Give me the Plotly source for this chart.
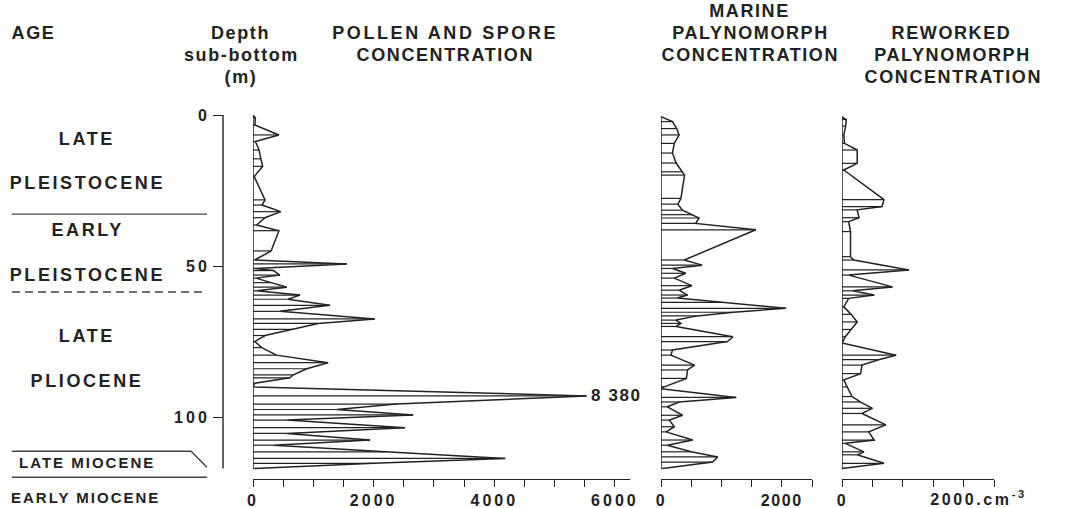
import plotly.graph_objects as go

# ---------------- data ----------------
pollen_depth = [0.0, 1.0, 3.3, 6.6, 8.8, 11.6, 14.5, 17.0, 20.4, 28.1, 29.8, 32.0, 34.0, 36.4, 38.3,
                45.0, 48.0, 49.3, 50.8, 51.5, 53.0, 54.0, 55.5, 57.0, 58.2, 59.6, 61.0, 63.0, 65.0,
                67.5, 69.0, 71.0, 73.0, 75.0, 77.0, 79.5, 82.0, 84.0, 86.0, 87.0, 88.8, 90.0, 93.0,
                95.7, 97.5, 99.3, 101.0, 103.5, 105.4, 107.6, 109.3, 111.5, 113.7, 115.3, 117.0]
pollen_value = [0, 40, 30, 430, 40, 100, 130, 160, 20, 200, 150, 460, 200, 60, 430,
                300, 30, 1555, 30, 340, 445, 50, 300, 560, 60, 780, 580, 1275, 445,
                2020, 1080, 665, 200, 30, 145, 390, 1245, 890, 670, 610, 30, 0, 8380,
                2380, 1390, 2655, 560, 2520, 560, 1940, 340, 2200, 4180, 2000, 30]
pollen_display_cap = 5530   # the 8380 peak is drawn truncated and labelled

marine_depth = [0.6, 2.2, 4.5, 6.6, 9.4, 12.6, 15.9, 18.8, 19.9, 27.6, 29.5, 31.5, 33.0, 34.1, 35.9,
                38.0, 48.0, 49.7, 50.8, 52.4, 54.0, 56.5, 58.0, 59.6, 60.6, 62.0, 64.0, 65.3, 66.5,
                67.9, 69.0, 70.0, 73.4, 75.0, 77.8, 79.5, 82.8, 84.4, 87.2, 90.0, 90.6, 93.5, 95.0,
                96.6, 99.4, 101.0, 103.2, 104.9, 107.6, 109.3, 111.5, 113.2, 114.9, 117.0]
marine_value = [0, 190, 260, 300, 220, 190, 250, 360, 390, 330, 280, 355, 520, 630, 575,
                1570, 385, 680, 190, 410, 220, 510, 300, 440, 270, 1000, 2070, 1200, 600,
                250, 330, 250, 1190, 1100, 190, 165, 555, 440, 420, 55, 0, 1245, 300,
                105, 355, 140, 220, 85, 525, 105, 500, 940, 855, 30]

reworked_depth = [0.6, 1.5, 3.7, 6.6, 9.4, 11.6, 16.0, 18.2, 28.0, 30.3, 31.4, 34.0, 35.3, 38.6, 46.9,
                  48.0, 51.3, 53.0, 56.9, 58.2, 59.6, 60.7, 63.5, 66.0, 68.5, 71.0, 73.4, 75.5, 79.5,
                  81.0, 82.8, 85.6, 87.7, 90.0, 93.2, 95.0, 97.1, 98.8, 102.6, 104.9, 107.6, 108.7,
                  111.5, 112.5, 115.3, 117.0]
reworked_value = [0, 70, 60, 30, 40, 250, 250, 30, 690, 660, 250, 280, 110, 140, 140,
                  195, 1100, 110, 830, 170, 530, 110, 30, 150, 250, 150, 55, 0, 890,
                  600, 330, 305, 30, 85, 165, 300, 500, 330, 720, 440, 530, 55,
                  360, 250, 690, 0]

depth_ticks = [0, 50, 100]
pollen_ticks = list(range(0, 6001, 500))
pollen_labels = ["0", "2000", "4000", "6000"]
small_ticks = list(range(0, 2501, 500))

age_boundaries = [32.8, 58.6]          # solid, dashed
miocene_top, miocene_bottom = 111.3, 119.9
age_labels = ["LATE", "PLEISTOCENE", "EARLY", "PLEISTOCENE", "LATE", "PLIOCENE", "LATE MIOCENE"]
age_label_depth = [7.9, 22.5, 38.0, 53.0, 73.2, 88.0, 115.2]

# ---------------- layout helpers ----------------
W, H = 1065, 508
INK = "#222222"
FONT = "Liberation Sans, Arial, Helvetica, sans-serif"
DEPTH_MAX = 120.5
Y_TOP_PX, Y_BOT_PX = 115, 479
ydom = [1 - Y_BOT_PX / H, 1 - Y_TOP_PX / H]


def px(x):
    return x / W


def py(y):
    return 1 - y / H


def yp(d):
    return ydom[1] - d / DEPTH_MAX * (ydom[1] - ydom[0])


def rungs(depths, vals):
    xs, ys = [], []
    for d, v in zip(depths, vals):
        xs += [0, v, None]
        ys += [d, d, None]
    return xs, ys


fig = go.Figure()

pollen_disp = [min(v, pollen_display_cap) for v in pollen_value]
panels = [("x", pollen_depth, pollen_disp),
          ("x2", marine_depth, marine_value),
          ("x3", reworked_depth, reworked_value)]

for xa, dep, val in panels:
    rx, ry = rungs(dep, val)
    fig.add_trace(go.Scatter(x=rx, y=ry, mode="lines", xaxis=xa, yaxis="y",
                             line=dict(color=INK, width=1.2), hoverinfo="skip",
                             showlegend=False))
    fig.add_trace(go.Scatter(x=val, y=dep, mode="lines", xaxis=xa, yaxis="y",
                             line=dict(color=INK, width=1.5), showlegend=False))
    fig.add_trace(go.Scatter(x=[0, 0], y=[dep[0], dep[-1]], mode="lines", xaxis=xa, yaxis="y",
                             line=dict(color=INK, width=1.5), hoverinfo="skip",
                             showlegend=False))

TICKFONT = dict(family=FONT, size=16, color=INK, weight="bold")
axis_common = dict(showgrid=False, zeroline=False, showline=True, linecolor=INK, linewidth=1.4,
                   ticks="outside", ticklen=7, tickwidth=1.3, tickcolor=INK,
                   tickfont=TICKFONT, anchor="y", automargin=False,
                   tickmode="array", fixedrange=True)

fig.update_layout(
    template="none",
    width=W, height=H, autosize=False,
    margin=dict(l=0, r=0, t=0, b=0, pad=0, autoexpand=False),
    paper_bgcolor="white", plot_bgcolor="white", showlegend=False,
    xaxis=dict(domain=[px(253), px(630)], range=[0, 6250], tickvals=pollen_ticks,
               ticktext=[str(t) if str(t) in pollen_labels else " " for t in pollen_ticks],
               **axis_common),
    xaxis2=dict(domain=[px(661), px(812)], range=[0, 2500], tickvals=small_ticks,
                ticktext=["0" if t == 0 else ("2000" if t == 2000 else " ") for t in small_ticks],
                **axis_common),
    xaxis3=dict(domain=[px(842), px(994)], range=[0, 2500], tickvals=small_ticks,
                ticktext=["0" if t == 0 else " " for t in small_ticks],
                **axis_common),
    yaxis=dict(domain=ydom, range=[DEPTH_MAX, 0], anchor="free", position=px(223),
               showgrid=False, zeroline=False, showline=False, ticks="outside", ticklen=10,
               tickwidth=1.3, tickcolor=INK, tickmode="array", tickvals=depth_ticks,
               automargin=False, tickfont=TICKFONT, fixedrange=True),
)

shapes = []
# depth axis line
shapes.append(dict(type="line", xref="paper", yref="paper", x0=px(223), x1=px(223),
                   y0=yp(0), y1=yp(117), line=dict(color=INK, width=1.4)))
# age boundaries
shapes.append(dict(type="line", xref="paper", yref="paper", x0=px(12), x1=px(207),
                   y0=yp(age_boundaries[0]), y1=yp(age_boundaries[0]),
                   line=dict(color="#444", width=1.4)))
shapes.append(dict(type="line", xref="paper", yref="paper", x0=px(12), x1=px(205),
                   y0=yp(age_boundaries[1]), y1=yp(age_boundaries[1]),
                   line=dict(color="#444", width=1.4, dash="8px,5px")))
shapes.append(dict(type="path", xref="paper", yref="paper",
                   path="M {:.5f} {:.5f} L {:.5f} {:.5f} L {:.5f} {:.5f}".format(
                       px(12), yp(miocene_top), px(191), yp(miocene_top), px(207), yp(116.6)),
                   line=dict(color="#444", width=1.4)))
shapes.append(dict(type="line", xref="paper", yref="paper", x0=px(12), x1=px(207),
                   y0=yp(miocene_bottom), y1=yp(miocene_bottom),
                   line=dict(color="#444", width=1.4)))
fig.update_layout(shapes=shapes)

ann = []


def text(x, y, s, size=18, xanchor="center", **kw):
    ann.append(dict(x=x, y=y, xref="paper", yref="paper", text=s, showarrow=False,
                    xanchor=xanchor, yanchor="middle",
                    font=dict(family=FONT, size=size, color=INK, weight="bold"), **kw))


# headers
text(px(12), py(33), "AGE", xanchor="left")
text(px(240), py(33), "Depth")
text(px(241), py(55), "sub-bottom")
text(px(241), py(77), "(m)")
text(px(445), py(33), "POLLEN AND SPORE")
text(px(445), py(55), "CONCENTRATION")
text(px(749), py(11), "MARINE")
text(px(750), py(33), "PALYNOMORPH")
text(px(750), py(55), "CONCENTRATION")
text(px(951), py(33), "REWORKED")
text(px(952), py(55), "PALYNOMORPH")
text(px(953), py(77), "CONCENTRATION")

# age labels
for s, d in zip(age_labels, age_label_depth):
    text(px(87), yp(d), s, size=15 if "MIOCENE" in s else 18)
text(px(85), py(497), "EARLY MIOCENE", size=15)

# truncated peak label
ann.append(dict(x=pollen_display_cap, y=pollen_depth[pollen_value.index(max(pollen_value))],
                xref="x", yref="y", text="8 380", showarrow=False, xanchor="left",
                yanchor="middle", xshift=6,
                font=dict(family=FONT, size=17, color=INK, weight="bold")))
# reworked unit label
ann.append(dict(x=2000, y=py(498), xref="x3", yref="paper", text="2000.cm<sup>-3</sup>",
                showarrow=False, xanchor="left", yanchor="middle", xshift=-24,
                font=dict(family=FONT, size=16, color=INK, weight="bold")))
fig.update_layout(annotations=ann)

post = """
document.body.style.margin = '0';
document.body.style.overflow = 'hidden';
var gd = document.getElementById('{plot_id}');
var wide = ['LATE', 'PLEISTOCENE', 'EARLY', 'PLIOCENE', 'POLLEN AND SPORE'];
var mio = ['LATE MIOCENE', 'EARLY MIOCENE'];
gd.querySelectorAll('text').forEach(function(t){
  var s = (t.textContent || '').trim();
  var ls = '1.6px';
  if (t.closest('.xtick') || t.closest('.ytick')) { ls = '3px'; }
  else if (wide.indexOf(s) >= 0) { ls = '2.6px'; }
  else if (mio.indexOf(s) >= 0) { ls = '2px'; }
  else if (s.indexOf('2000.cm') === 0) { ls = '2.6px'; }
  t.style.letterSpacing = ls;
});
"""
fig.write_html("out.html", post_script=post, config={"displayModeBar": False})
